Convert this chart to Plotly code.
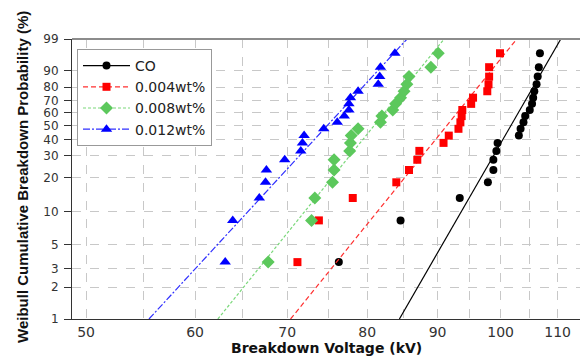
import numpy as np
import plotly.graph_objects as go

# Cumulative probabilities (%) (same ranks for all series)
prob = [3.43, 8.33, 13.24, 18.14, 23.04, 27.94, 32.84, 37.75, 42.65, 47.55,
        52.45, 57.35, 62.25, 67.16, 72.06, 76.96, 81.86, 86.76, 91.67, 96.57]

# Breakdown voltages (kV)
v_co = [76.3, 84.6, 93.4, 97.9, 98.8, 98.8, 99.3, 99.5, 103.1, 103.4,
        103.9, 104.2, 105.0, 105.4, 105.6, 105.8, 106.2, 106.4, 106.6, 106.8]
v_004 = [71.2, 73.8, 78.1, 84.0, 85.8, 87.0, 87.3, 90.9, 91.7, 93.2,
         93.5, 93.7, 93.8, 95.2, 95.5, 97.8, 98.0, 98.1, 98.1, 99.9]
v_008 = [67.8, 72.9, 73.3, 75.5, 75.7, 75.7, 77.7, 77.8, 77.9, 78.8,
         81.8, 82.0, 83.5, 83.9, 84.6, 85.1, 85.5, 85.8, 89.0, 90.1]
v_012 = [63.1, 63.9, 66.8, 67.5, 67.6, 69.7, 71.6, 71.8, 72.0, 74.4,
         76.1, 77.0, 77.6, 77.6, 77.8, 78.8, 81.5, 81.7, 81.8, 83.8]

# Weibull fit lines: (scale eta in kV, shape beta)
fit_co = (103.4, 22.7)
fit_004 = (93.5, 16.2)
fit_008 = (82.8, 16.2)
fit_012 = (76.8, 14.2)

names = ["CO", "0.004wt%", "0.008wt%", "0.012wt%"]

y_ticks = [1, 2, 3, 5, 10, 20, 30, 40, 50, 60, 70, 80, 90, 99]
x_ticks = [50, 60, 70, 80, 90, 100, 110]
x_minor = [55, 65, 75, 85, 95, 105]


def wb(p):
    p = np.asarray(p, dtype=float) / 100.0
    return np.log(-np.log(1.0 - p))


W, H = 580, 356
L, R, T, B = 72, 0, 39, 37

ymin, ymax = float(wb(1)), float(wb(99))
xmin, xmax = 48.84, 114.2

fig = go.Figure()

styles = [
    dict(data=v_co, fit=fit_co, mcolor="#000000", lcolor="#000000", symbol="circle",
         msize=8, dash="solid"),
    dict(data=v_004, fit=fit_004, mcolor="#ff0000", lcolor="#ff3030", symbol="square",
         msize=8, dash="5px,3px"),
    dict(data=v_008, fit=fit_008, mcolor="#5cc85c", lcolor="#7ad87a", symbol="diamond",
         msize=10, dash="3px,2px"),
    dict(data=v_012, fit=fit_012, mcolor="#0000ff", lcolor="#3030ff", symbol="triangle-up",
         msize=10, dash="7px,2px,2px,2px"),
]

for name, s in zip(names, styles):
    eta, beta = s["fit"]
    wl = np.array([ymin, ymax])
    xl = eta * np.exp(wl / beta)
    fig.add_trace(go.Scatter(
        x=xl, y=wl, mode="lines", line=dict(color=s["lcolor"], width=1.2, dash=s["dash"]),
        showlegend=False, hoverinfo="skip", legendgroup=name))
    fig.add_trace(go.Scatter(
        x=s["data"], y=wb(prob), mode="markers", name=name,
        marker=dict(color=s["mcolor"], symbol=s["symbol"], size=s["msize"]),
        legendgroup=name, showlegend=False))
    # legend entry: line + marker
    fig.add_trace(go.Scatter(
        x=[None], y=[None], mode="lines+markers", name=name,
        marker=dict(color=s["mcolor"], symbol=s["symbol"], size=s["msize"]),
        line=dict(color=s["lcolor"], width=1.2, dash=s["dash"]),
        legendgroup=name, showlegend=True))

fig.update_layout(
    width=W, height=H,
    margin=dict(l=L, r=R, t=T, b=B),
    paper_bgcolor="white", plot_bgcolor="white",
    font=dict(family="DejaVu Sans", color="#333333"),
    showlegend=True,
    legend=dict(
        x=(77 - L) / (W - L - R), y=1 - (49 - T) / (H - T - B),
        xanchor="left", yanchor="top",
        bgcolor="white", bordercolor="#999999", borderwidth=1,
        font=dict(family="DejaVu Sans", size=14, color="#222222"),
        tracegroupgap=0, itemwidth=47,
    ),
    xaxis=dict(
        type="log", range=[np.log10(xmin), np.log10(xmax)],
        tickvals=x_ticks, ticktext=[str(v) for v in x_ticks],
        tickfont=dict(family="DejaVu Sans", size=14, color="#333333"),
        showgrid=True, gridcolor="#c8c8c8", griddash="dash", gridwidth=1,
        minor=dict(tickvals=x_minor, showgrid=True, gridcolor="#c8c8c8",
                   griddash="dash", gridwidth=1, ticks=""),
        showline=True, linecolor="#333333", linewidth=1,
        ticks="", zeroline=False, ticklabelstandoff=0,
    ),
    yaxis=dict(
        range=[ymin, ymax],
        tickvals=[float(wb(p)) for p in y_ticks], ticktext=[str(p) for p in y_ticks],
        tickfont=dict(family="DejaVu Sans", size=12, color="#333333"),
        showgrid=True, gridcolor="#c8c8c8", griddash="dash", gridwidth=1,
        showline=True, linecolor="#333333", linewidth=1,
        ticks="outside", ticklen=7, tickcolor="#333333",
        zeroline=False, ticklabelstandoff=3,
    ),
    shapes=[dict(type="line", xref="paper", yref="paper", x0=0, x1=1, y0=1, y1=1,
                 line=dict(color="#8c8c8c", width=2))],
    annotations=[
        dict(text="<b>Breakdown Voltage (kV)</b>", xref="paper", yref="paper",
             x=(326 - L) / (W - L - R), y=-(348 - (H - B)) / (H - T - B),
             xanchor="center", yanchor="middle", showarrow=False,
             font=dict(family="DejaVu Sans", size=14, color="#111111")),
        dict(text="<b>Weibull Cumulative Breakdown Probability (%)</b>", xref="paper", yref="paper",
             x=-(L - 22) / (W - L - R), y=1 - (177 - T) / (H - T - B),
             xanchor="center", yanchor="middle", textangle=-90, showarrow=False,
             font=dict(family="Liberation Sans", size=15, color="#111111")),
    ],
)

fig.write_html("out.html")
